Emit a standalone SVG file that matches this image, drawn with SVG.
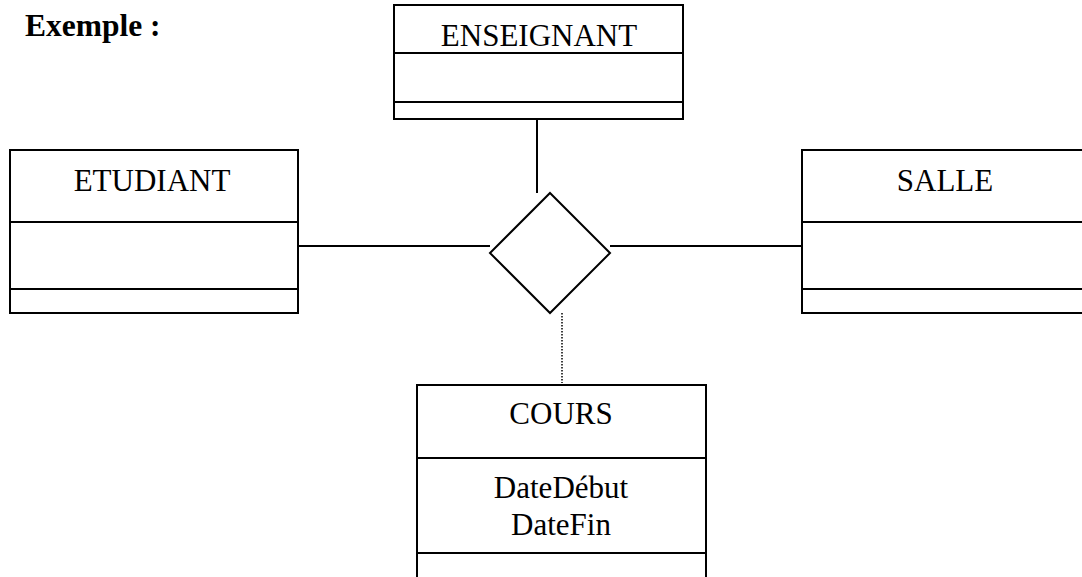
<svg xmlns="http://www.w3.org/2000/svg" width="1082" height="577" viewBox="0 0 1082 577">
<style>
.box{fill:#fff;stroke:#000;stroke-width:2}
.div{stroke:#000;stroke-width:2}
.t{font-family:"Liberation Serif","Times New Roman",serif;font-size:31px;fill:#000;text-anchor:middle}
.c{stroke:#000;stroke-width:2;fill:none}
.d{stroke:#000;stroke-width:1.5;stroke-dasharray:1.5 1.5;fill:none}
</style>
<rect width="1082" height="577" fill="#fff"/>
<text x="25" y="36" style="font-family:'Liberation Serif','Times New Roman',serif;font-size:31.5px;font-weight:bold">Exemple :</text>
<g id="connectors">
<line class="c" x1="537" y1="119" x2="537" y2="193"/>
<line class="c" x1="298" y1="246" x2="490" y2="246"/>
<line class="c" x1="610" y1="246" x2="802" y2="246"/>
<line class="d" x1="562" y1="313" x2="562" y2="383"/>
</g>
<g id="assoc">
<polygon class="c" points="550,193 610,253 550,313 490,253"/>
</g>
<g id="enseignant">
<rect class="box" x="394" y="5" width="289" height="114"/>
<line class="div" x1="394" y1="53" x2="683" y2="53"/>
<line class="div" x1="394" y1="102" x2="683" y2="102"/>
<text class="t" x="539" y="46">ENSEIGNANT</text>
</g>
<g id="etudiant">
<rect class="box" x="10" y="150" width="288" height="163"/>
<line class="div" x1="10" y1="222" x2="298" y2="222"/>
<line class="div" x1="10" y1="289" x2="298" y2="289"/>
<text class="t" x="152" y="191">ETUDIANT</text>
</g>
<g id="salle">
<rect class="box" x="802" y="150" width="290" height="163"/>
<line class="div" x1="802" y1="222" x2="1082" y2="222"/>
<line class="div" x1="802" y1="289" x2="1082" y2="289"/>
<text class="t" x="945" y="191">SALLE</text>
</g>
<g id="cours">
<rect class="box" x="417" y="385" width="289" height="200"/>
<line class="div" x1="417" y1="458" x2="706" y2="458"/>
<line class="div" x1="417" y1="553" x2="706" y2="553"/>
<text class="t" x="561" y="424">COURS</text>
<text class="t" x="561" y="498">DateDébut</text>
<text class="t" x="561" y="535">DateFin</text>
</g>
</svg>
